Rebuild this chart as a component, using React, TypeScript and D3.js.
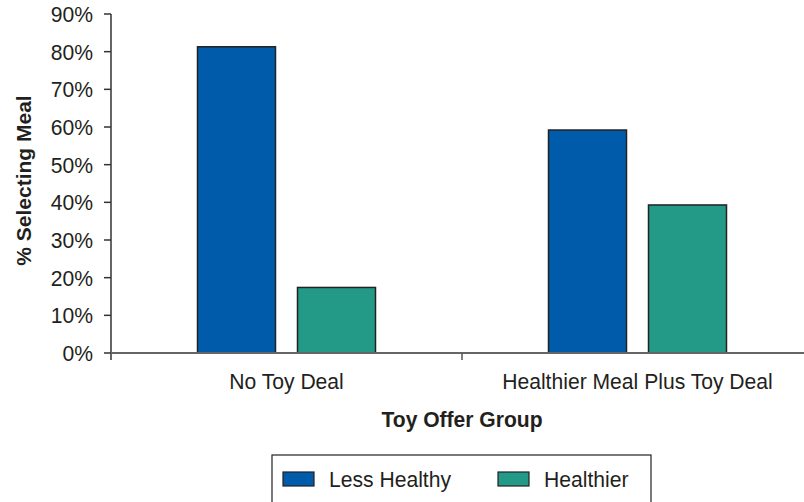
import { useEffect, useRef } from 'react';
import * as d3 from 'd3';

const categories = ['No Toy Deal', 'Healthier Meal Plus Toy Deal'];
const seriesNames = ['Less Healthy', 'Healthier'];
const lessHealthy = [81.3, 59.2];
const healthier = [17.4, 39.3];
const yTicks = [0, 10, 20, 30, 40, 50, 60, 70, 80, 90];
const colors = ['#005BAA', '#229A87'];

const FONT = '"Liberation Sans", Arial, Helvetica, sans-serif';

export default function App() {
  const svgRef = useRef<SVGSVGElement>(null);

  useEffect(() => {
    if (!svgRef.current) return;
    const svg = d3.select(svgRef.current);
    svg.selectAll('*').remove();

    const width = 804;
    const height = 502;
    const left = 111;
    const top = 14;
    const bottom = 353;

    svg.attr('width', width).attr('height', height);

    // text squeezed slightly, like the source's narrow Helvetica
    const label = (
      x: number,
      y: number,
      txt: string,
      opts: { size?: number; anchor?: string; bold?: boolean; sx?: number; rotate?: number } = {}
    ) => {
      const { size = 22, anchor = 'start', bold = false, sx = 0.96, rotate = 0 } = opts;
      return svg
        .append('text')
        .attr('transform', `translate(${x},${y}) rotate(${rotate}) scale(${sx},1)`)
        .attr('text-anchor', anchor)
        .attr('font-family', FONT)
        .attr('font-size', size)
        .attr('font-weight', bold ? 'bold' : 'normal')
        .attr('fill', '#231f20')
        .text(txt);
    };

    const x = d3.scaleBand<string>().domain(categories).range([left, left + 702]).padding(0);
    const xSub = d3
      .scaleBand<string>()
      .domain(seriesNames)
      .range([0, x.bandwidth()])
      .paddingInner(0.22)
      .paddingOuter(0.865);
    const y = d3.scaleLinear().domain([0, 90]).range([bottom, top]);

    const values = [lessHealthy, healthier];

    // bars
    categories.forEach((cat, ci) => {
      seriesNames.forEach((s, si) => {
        const v = values[si][ci];
        svg
          .append('rect')
          .attr('x', (x(cat) ?? 0) + (xSub(s) ?? 0))
          .attr('y', y(v))
          .attr('width', xSub.bandwidth())
          .attr('height', y(0) - y(v))
          .attr('fill', colors[si])
          .attr('stroke', '#222')
          .attr('stroke-width', 1.5);
      });
    });

    // y axis
    svg
      .append('line')
      .attr('x1', left)
      .attr('x2', left)
      .attr('y1', y(90))
      .attr('y2', bottom + 7)
      .attr('stroke', '#333')
      .attr('stroke-width', 1.5);

    yTicks.forEach((t) => {
      svg
        .append('line')
        .attr('x1', left - 7)
        .attr('x2', left)
        .attr('y1', y(t))
        .attr('y2', y(t))
        .attr('stroke', '#333')
        .attr('stroke-width', 1.5);
      label(93, y(t) + 8, `${t}%`, { anchor: 'end' });
    });

    // x axis
    svg
      .append('line')
      .attr('x1', left)
      .attr('x2', width)
      .attr('y1', bottom)
      .attr('y2', bottom)
      .attr('stroke', '#666')
      .attr('stroke-width', 2);

    // boundary tick between categories
    svg
      .append('line')
      .attr('x1', x(categories[1]) ?? 0)
      .attr('x2', x(categories[1]) ?? 0)
      .attr('y1', bottom)
      .attr('y2', bottom + 7)
      .attr('stroke', '#555')
      .attr('stroke-width', 1.5);

    categories.forEach((cat) => {
      label((x(cat) ?? 0) + x.bandwidth() / 2, 389, cat, { anchor: 'middle' });
    });

    // axis titles
    label(462, 427, 'Toy Offer Group', { anchor: 'middle', bold: true, size: 21.5, sx: 0.98 });
    label(31, (top + bottom) / 2 - 3, '% Selecting Meal', {
      anchor: 'middle',
      bold: true,
      size: 21,
      sx: 1,
      rotate: -90,
    });

    // legend
    svg
      .append('rect')
      .attr('x', 272)
      .attr('y', 455)
      .attr('width', 379)
      .attr('height', 60)
      .attr('fill', 'none')
      .attr('stroke', '#222')
      .attr('stroke-width', 1.2);

    const legendX = [283, 498];
    seriesNames.forEach((s, i) => {
      svg
        .append('rect')
        .attr('x', legendX[i])
        .attr('y', 472)
        .attr('width', 31)
        .attr('height', 14)
        .attr('fill', colors[i])
        .attr('stroke', '#222')
        .attr('stroke-width', 1.2);
      label(legendX[i] + 46, 487, s);
    });
  }, []);

  return (
    <svg
      ref={svgRef}
      style={{ position: 'absolute', left: 0, top: 0, background: '#fff' }}
    />
  );
}
